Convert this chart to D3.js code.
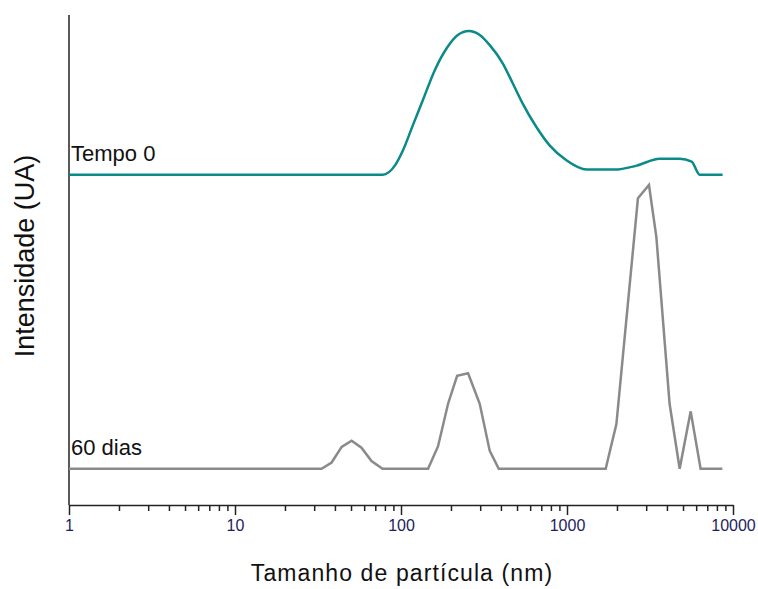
<!DOCTYPE html>
<html>
<head>
<meta charset="utf-8">
<script src="https://cdn.jsdelivr.net/npm/d3@7"></script>
<style>
  body { margin: 0; background: #fff; }
  text { font-family: "Liberation Sans", Arial, sans-serif; }
</style>
</head>
<body>
<div id="chart"></div>
<script>
// particle size (nm) and intensity (UA)
var sizeTempo0 = [1, 77.7, 91.8, 102.5, 117.8, 135.3, 159.8, 188.8, 219.9, 256, 298, 342.5, 410, 471, 541, 657, 788, 996, 1314, 1938, 2629, 3615, 4772, 5636, 6297, 8656];
var intTempo0  = [0, 0, 2.5, 6.6, 13.6, 20.5, 28.8, 34.9, 38.5, 39.6, 38.5, 35.7, 30.7, 25.2, 19.6, 13, 8, 3.9, 1.4, 1.4, 2.5, 4.4, 4.4, 3.6, 0, 0];

var size60 = [1, 33.2, 38.2, 43.9, 50.4, 57.8, 66.4, 77.4, 145.6, 167.2, 192.1, 217.8, 253.6, 298, 342.5, 387.9, 1710, 1984, 2675, 3117, 3453, 4150, 4772, 5560, 6380, 8625];
var int60  = [0, 0, 1.7, 6.0, 7.7, 5.8, 2.1, 0, 0, 6.2, 17.9, 25.6, 26.3, 17.9, 4.9, 0, 0, 12.3, 74.5, 78.2, 63.9, 17.9, 0, 15.8, 0, 0];

var seriesNames = ["Tempo 0", "60 dias"];
var seriesOffsets = [81, 0];   // vertical stacking of the curves
var xTicks = [1, 10, 100, 1000, 10000];

var margin = {top: 15, right: 25, bottom: 84, left: 69},
    width = 758 - margin.left - margin.right,
    height = 589 - margin.top - margin.bottom;

var svg = d3.select("#chart")
  .append("svg")
    .attr("width", width + margin.left + margin.right)
    .attr("height", height + margin.top + margin.bottom)
  .append("g")
    .attr("transform", "translate(" + margin.left + "," + margin.top + ")");

var x = d3.scaleLog()
  .domain([1, 10000])
  .range([0, width]);

var y = d3.scaleLinear()
  .domain([-10, 125])
  .range([height, 0]);

// minor ticks
var minor = [];
xTicks.slice(0, -1).forEach(function(d) {
  for (var k = 2; k <= 9; k++) minor.push(d * k);
});
svg.append("g")
  .attr("class", "minor")
  .attr("transform", "translate(0," + height + ")")
  .call(d3.axisBottom(x).tickValues(minor).tickSize(6).tickFormat(""))
  .call(function(g) { g.select(".domain").remove(); });

// major ticks + labels
var xAxis = svg.append("g")
  .attr("transform", "translate(0," + height + ")")
  .call(d3.axisBottom(x).tickValues(xTicks).tickSize(10).tickSizeOuter(0).tickPadding(5).tickFormat(d3.format("d")));
xAxis.selectAll("text")
  .style("font-size", "16px")
  .attr("fill", "#231d5e");

svg.selectAll(".tick line, .domain")
  .attr("stroke", "#222")
  .attr("stroke-width", 1.5);

// y axis line, no ticks
svg.append("line")
  .attr("x1", 0).attr("x2", 0)
  .attr("y1", 0).attr("y2", height)
  .attr("stroke", "#222")
  .attr("stroke-width", 1.5);

var series = [
  {name: seriesNames[0], sizes: sizeTempo0, vals: intTempo0, off: seriesOffsets[0], color: "#0a8a88", curve: d3.curveMonotoneX},
  {name: seriesNames[1], sizes: size60, vals: int60, off: seriesOffsets[1], color: "#8a8a8a", curve: d3.curveLinear}
];

series.forEach(function(s) {
  var pts = s.sizes.map(function(d, i) { return [d, s.vals[i] + s.off]; });
  var line = d3.line()
    .curve(s.curve)
    .x(function(d) { return x(d[0]); })
    .y(function(d) { return y(d[1]); });
  svg.append("path")
    .datum(pts)
    .attr("fill", "none")
    .attr("stroke", s.color)
    .attr("stroke-width", 2.5)
    .attr("d", line);

  svg.append("text")
    .attr("x", 2)
    .attr("y", y(s.off) - 14)
    .style("font-size", "22px")
    .attr("fill", "#111")
    .text(s.name);
});

// axis labels
svg.append("text")
  .attr("x", 333)
  .attr("y", height + 76)
  .attr("text-anchor", "middle")
  .style("font-size", "23px")
  .style("letter-spacing", "1.1px")
  .attr("fill", "#111")
  .text("Tamanho de partícula (nm)");

svg.append("text")
  .attr("transform", "rotate(-90)")
  .attr("x", -(256 - margin.top))
  .attr("y", -margin.left + 34)
  .attr("text-anchor", "middle")
  .style("font-size", "27px")
  .attr("fill", "#111")
  .text("Intensidade (UA)");
</script>
</body>
</html>
